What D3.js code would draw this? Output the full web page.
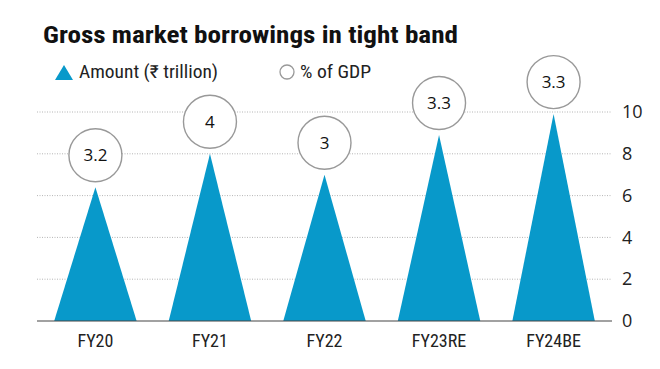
<!DOCTYPE html>
<html><head><meta charset="utf-8">
<script src="https://cdn.jsdelivr.net/npm/d3@7"></script>
<style>
body{margin:0;background:#fff;}
svg{display:block;}
.cond{font-family:"Liberation Sans Narrow","Arial Narrow","Roboto Condensed",Roboto,sans-serif;}
</style></head>
<body><svg id="c" width="660" height="369"></svg>
<script>
const categories = ["FY20","FY21","FY22","FY23RE","FY24BE"];
const amounts = [6.4, 8.0, 7.0, 8.9, 9.9];
const gdpPct = ["3.2","4","3","3.3","3.3"];
const yTicks = [0,2,4,6,8,10];

const svg = d3.select("#c");
const x = d3.scaleBand().domain(categories).range([37,612]).paddingInner(0.28).paddingOuter(0.15);
const y = d3.scaleLinear().domain([0,10]).range([321,112]);
const blue = "#0899ca";

// title
svg.append("text").attr("class","cond").attr("x",43).attr("y",43)
  .attr("font-size",23).attr("font-weight","bold").attr("fill","#111")
  .attr("textLength",415).attr("lengthAdjust","spacingAndGlyphs")
  .text("Gross market borrowings in tight band");

// legend
svg.append("path").attr("d","M55,80 L64,65 L73,80 Z").attr("fill",blue);
svg.append("text").attr("class","cond").attr("x",79).attr("y",78).attr("font-size",18).attr("fill","#222")
  .attr("textLength",139).attr("lengthAdjust","spacingAndGlyphs").text("Amount (₹ trillion)");
svg.append("circle").attr("cx",287).attr("cy",72).attr("r",7).attr("fill","none").attr("stroke","#999").attr("stroke-width",1.3);
svg.append("text").attr("class","cond").attr("x",300).attr("y",78).attr("font-size",18).attr("fill","#222")
  .attr("textLength",71).attr("lengthAdjust","spacingAndGlyphs").text("% of GDP");

// gridlines
svg.append("g").selectAll("line").data(yTicks.filter(d=>d>0)).join("line")
  .attr("x1",37).attr("x2",612).attr("y1",d=>y(d)).attr("y2",d=>y(d))
  .attr("stroke","#b5b5b5").attr("stroke-width",1).attr("stroke-dasharray","1,1.5");

// triangles
svg.append("g").selectAll("path").data(categories).join("path")
  .attr("d",(c,i)=>{const x0=x(c), w=x.bandwidth(); return `M${x0},${y(0)} L${x0+w/2},${y(amounts[i])} L${x0+w},${y(0)} Z`;})
  .attr("fill",blue);

// baseline
svg.append("line").attr("x1",37).attr("x2",612).attr("y1",y(0)).attr("y2",y(0)).attr("stroke","#444").attr("stroke-width",1.2);

// right axis
const ax = svg.append("g").attr("transform","translate(612,0)")
  .call(d3.axisRight(y).tickValues(yTicks).tickSize(0).tickPadding(10));
ax.select(".domain").remove();
ax.selectAll("text").attr("font-family","'Open Sans',sans-serif").attr("font-size",18).attr("fill","#222");

// circles
const cg = svg.append("g").selectAll("g").data(categories).join("g")
  .attr("transform",(c,i)=>`translate(${x(c)+x.bandwidth()/2},${y(amounts[i])-32})`);
cg.append("circle").attr("r",26.5).attr("fill","#fff").attr("stroke","#999").attr("stroke-width",1.4);
cg.append("text").attr("text-anchor","middle").attr("dy","0.36em")
  .attr("font-family","'Open Sans',sans-serif").attr("font-size",17).attr("font-weight",500).attr("fill","#111")
  .text((c,i)=>gdpPct[i]);

// x labels
svg.append("g").selectAll("text").data(categories).join("text").attr("class","cond")
  .attr("x",c=>x(c)+x.bandwidth()/2).attr("y",347).attr("text-anchor","middle")
  .attr("font-size",18).attr("fill","#222").text(c=>c);
</script></body></html>
